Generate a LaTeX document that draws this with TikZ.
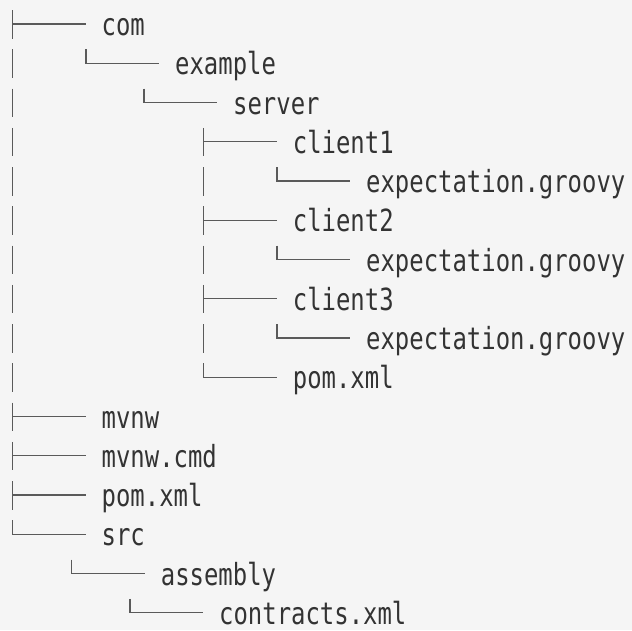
\documentclass[tikz,border=0pt]{standalone}
\usepackage{fontspec}
\newfontfamily\treefont{DejaVu Sans Mono}[FakeStretch=0.784]
\definecolor{bgc}{HTML}{F5F5F5}
\definecolor{txtc}{HTML}{333333}
\definecolor{linec}{HTML}{5A5A5A}
\tikzset{
  entry/.style={anchor=west,inner sep=0pt,text height=28pt,text depth=5pt,
    text=txtc,font=\treefont\fontsize{30.5}{36}\selectfont},
  tree/.style={draw=linec,line width=1.3pt}
}
\begin{document}
\begin{tikzpicture}[x=1pt,y=1pt]

\fill[bgc] (0,0) rectangle (632,-630);
\useasboundingbox (0,0) rectangle (632,-630);

% entries, one per row
\node[entry] (com)       at (101.5,-24)    {com};
\node[entry] (example)   at (175,-63.25)   {example};
\node[entry] (server)    at (233,-102.5)   {server};
\node[entry] (client1)   at (292.7,-141.75) {client1};
\node[entry] (exp1)      at (366,-181)     {expectation.groovy};
\node[entry] (client2)   at (292.7,-220.25) {client2};
\node[entry] (exp2)      at (366,-259.5)   {expectation.groovy};
\node[entry] (client3)   at (292.7,-298.75) {client3};
\node[entry] (exp3)      at (366,-338)     {expectation.groovy};
\node[entry] (srvpom)    at (292.7,-377.25) {pom.xml};
\node[entry] (mvnw)      at (101.5,-416.5) {mvnw};
\node[entry] (mvnwcmd)   at (101.5,-455.75) {mvnw.cmd};
\node[entry] (pom)       at (101.5,-495)   {pom.xml};
\node[entry] (src)       at (101.5,-534.25) {src};
\node[entry] (assembly)  at (160.7,-573.5) {assembly};
\node[entry] (contracts) at (219,-612.75)  {contracts.xml};

% corners
\foreach \n in {com,client1,client2,client3,mvnw,mvnwcmd,pom}
  \draw[tree] ([shift={(-89,14)}]\n.west) -- ++(0,-28.5)
    ([xshift=-89]\n.west) -- ([xshift=-16]\n.west);
\foreach \n in {example,server,exp1,exp2,exp3,srvpom,src,assembly,contracts}
  \draw[tree] ([shift={(-89,14)}]\n.west) |- ([xshift=-16]\n.west);

% vertical bars
\foreach \n in {example,server,client1,exp1,client2,exp2,client3,exp3,srvpom}
  \draw[tree] ([shift={(-89,14)}]com.west |- \n.west) -- ++(0,-28.5);
\foreach \n in {exp1,exp2,exp3}
  \draw[tree] ([shift={(-89,14)}]client1.west |- \n.west) -- ++(0,-28.5);

\end{tikzpicture}
\end{document}
